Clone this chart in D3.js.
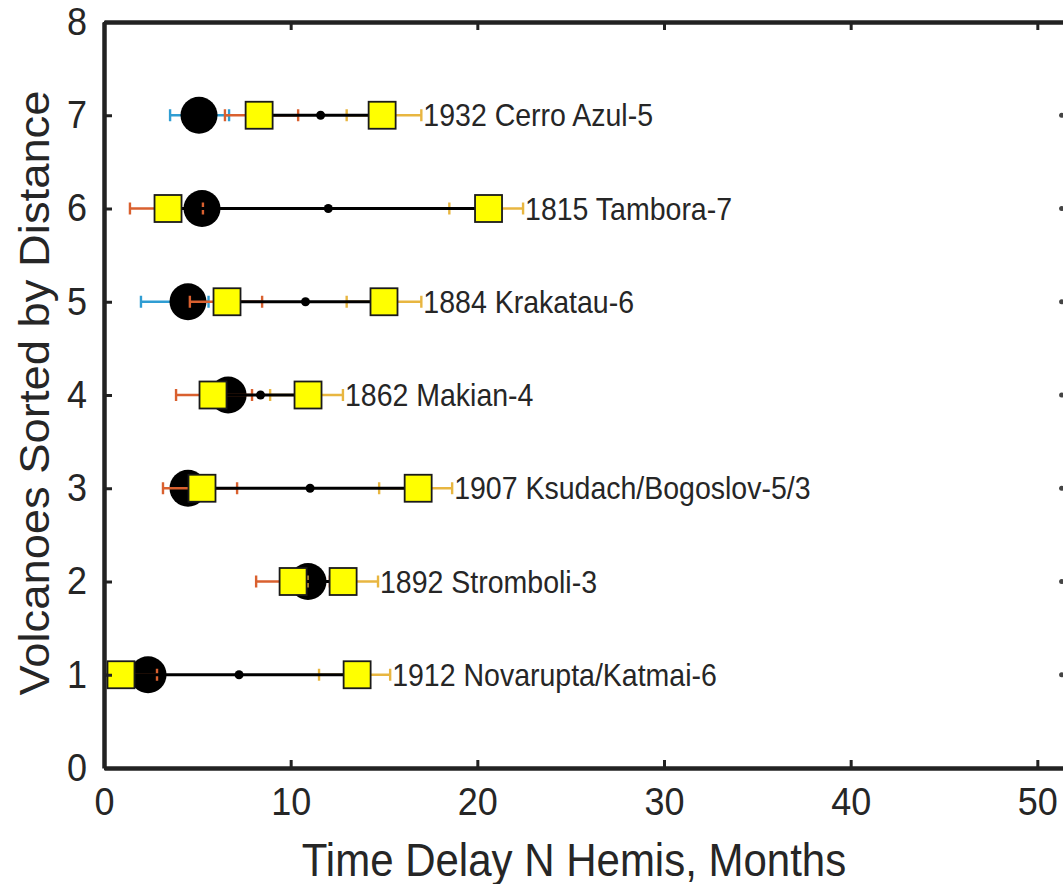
<!DOCTYPE html>
<html>
<head>
<meta charset="utf-8">
<script src="https://cdn.jsdelivr.net/npm/d3@7"></script>
<style>
  body { margin: 0; background: #fff; }
  text { font-family: "Liberation Sans", Arial, Helvetica, sans-serif; fill: #262626; }
</style>
</head>
<body>
<svg id="chart"></svg>
<script>

// volcano rows, bottom (1) to top (7)
var rows    = [1, 2, 3, 4, 5, 6, 7];
var names   = ["1912 Novarupta/Katmai-6", "1892 Stromboli-3", "1907 Ksudach/Bogoslov-5/3",
               "1862 Makian-4", "1884 Krakatau-6", "1815 Tambora-7", "1932 Cerro Azul-5"];

// big black circle + blue error bar
var circleVal = [2.36, 10.93, 4.50, 6.65, 4.50, 5.25, 5.09];
var blueLo    = [1.90, 10.50, 4.00, 6.20, 1.98, 4.70, 3.54];
var blueHi    = [3.20, 11.40, 5.00, 7.10, 5.60, 5.95, 6.70];

// first yellow square + red error bar
var sq1Val = [0.91, 10.13, 5.25, 5.84, 6.59, 3.43, 8.31];
var redLo  = [-1.0, 8.15, 3.16, 3.86, 4.60, 1.39, 6.48];
var redHi  = [2.84, 12.10, 7.13, 7.93, 8.47, 5.30, 10.40];

// second yellow square + gold error bar
var sq2Val = [13.56, 12.81, 16.83, 10.93, 15.00, 20.60, 14.90];
var goldLo = [11.52, 10.90, 14.74, 8.90, 13.00, 18.50, 13.00];
var goldHi = [15.33, 14.68, 18.65, 12.80, 17.00, 22.45, 17.00];

// small dots at the right edge
var edgeVal = [51.3, 51.3, 51.3, 51.3, 51.3, 51.3, 51.3];

var xTicks = [0, 10, 20, 30, 40, 50];
var yTicks = [0, 1, 2, 3, 4, 5, 6, 7, 8];

var data = rows.map(function(r, i) {
  return {
    y: r, name: names[i],
    c: circleVal[i], bLo: blueLo[i], bHi: blueHi[i],
    s1: sq1Val[i], rLo: redLo[i], rHi: redHi[i],
    s2: sq2Val[i], gLo: goldLo[i], gHi: goldHi[i],
    e: edgeVal[i]
  };
});

var margin = {top: 22, left: 104},
    W = 1063, H = 884,
    width = 1120,           // axis runs to 60, off the right edge
    height = 746,
    stretch = 1.08;         // text in the picture is a bit taller than wide

var svg = d3.select("#chart").attr("width", W).attr("height", H);

var x = d3.scaleLinear().domain([0, 60]).range([0, width]);
var y = d3.scaleLinear().domain([0, 8]).range([height, 0]);

var g = svg.append("g").attr("transform", "translate(" + margin.left + "," + margin.top + ")");

svg.append("defs").append("clipPath").attr("id", "clip")
  .append("rect").attr("x", 0).attr("y", 0).attr("width", width).attr("height", height);

var plot = g.append("g").attr("clip-path", "url(#clip)");

var blue = "#2f9dd3", red = "#d9602f", gold = "#e8b640";
var capH = 6;

function errorbar(sel, lo, hi, col) {
  sel.append("line")
    .attr("x1", function(d) { return x(d[lo]); })
    .attr("x2", function(d) { return x(d[hi]); })
    .attr("y1", function(d) { return y(d.y); })
    .attr("y2", function(d) { return y(d.y); })
    .attr("stroke", col).attr("stroke-width", 2.4);
  [lo, hi].forEach(function(k) {
    sel.append("line")
      .attr("x1", function(d) { return x(d[k]); })
      .attr("x2", function(d) { return x(d[k]); })
      .attr("y1", function(d) { return y(d.y) - capH; })
      .attr("y2", function(d) { return y(d.y) + capH; })
      .attr("stroke", col).attr("stroke-width", 2.4);
  });
}

var row = plot.selectAll(".row")
  .data(data)
  .enter()
  .append("g")
  .attr("class", "row");

// blue error bar sits behind the circle
errorbar(row.append("g"), "bLo", "bHi", blue);

row.append("circle")
  .attr("cx", function(d) { return x(d.c); })
  .attr("cy", function(d) { return y(d.y); })
  .attr("r", 18.5)
  .attr("fill", "#000");

errorbar(row.append("g"), "rLo", "rHi", red);
errorbar(row.append("g"), "gLo", "gHi", gold);

// black line between the two squares, dot at the midpoint
row.append("line")
  .attr("x1", function(d) { return x(d.s1); })
  .attr("x2", function(d) { return x(d.s2); })
  .attr("y1", function(d) { return y(d.y); })
  .attr("y2", function(d) { return y(d.y); })
  .attr("stroke", "#000").attr("stroke-width", 2.8);

row.append("circle")
  .attr("cx", function(d) { return x((d.s1 + d.s2) / 2); })
  .attr("cy", function(d) { return y(d.y); })
  .attr("r", 4.5)
  .attr("fill", "#000");

["s1", "s2"].forEach(function(k) {
  row.append("rect")
    .attr("x", function(d) { return x(d[k]) - 13.5; })
    .attr("y", function(d) { return y(d.y) - 13.5; })
    .attr("width", 27).attr("height", 27)
    .attr("fill", "#ffff00")
    .attr("stroke", "#1a1a1a").attr("stroke-width", 1.8);
});

row.append("circle")
  .attr("cx", function(d) { return x(d.e); })
  .attr("cy", function(d) { return y(d.y); })
  .attr("r", 2.5)
  .attr("fill", "#444");

// volcano labels
g.selectAll(".lab")
  .data(data)
  .enter()
  .append("text")
  .attr("class", "lab")
  .attr("transform", function(d) {
    return "translate(" + (x(d.gHi) + 2) + "," + y(d.y) + ") scale(1," + stretch + ")";
  })
  .attr("dy", "0.36em")
  .style("font-size", "28.5px")
  .text(function(d) { return d.name; });

// Add X axis (bottom + top, ticks inward)
g.append("g")
  .attr("class", "x-axis")
  .attr("transform", "translate(0," + height + ")")
  .call(d3.axisBottom(x).tickValues(xTicks).tickSizeInner(-8).tickSizeOuter(0).tickPadding(19));
g.append("g")
  .call(d3.axisTop(x).tickValues(xTicks).tickSizeInner(-8).tickSizeOuter(0).tickFormat(""));

// Add Y axis
g.append("g")
  .attr("class", "y-axis")
  .call(d3.axisLeft(y).tickValues(yTicks).tickSizeInner(-8).tickSizeOuter(0).tickPadding(17));

g.selectAll(".domain").attr("stroke", "#222").attr("stroke-width", 4.5);
g.selectAll(".tick line").attr("stroke", "#222").attr("stroke-width", 3);
g.selectAll(".tick text")
  .style("font-size", "36px")
  .style("font-family", "'Liberation Sans', Arial, sans-serif")
  .attr("fill", "#262626")
  .each(function() {
    var t = d3.select(this);
    var tx = +t.attr("x") || 0, ty = +t.attr("y") || 0;
    t.attr("x", 0).attr("y", 0)
     .attr("transform", "translate(" + tx + "," + ty + ") scale(1," + stretch + ")");
  });

// axis labels
svg.append("text")
  .attr("text-anchor", "middle")
  .attr("transform", "translate(574,876) scale(1," + stretch + ")")
  .style("font-size", "42px")
  .text("Time Delay N Hemis, Months");

svg.append("text")
  .attr("text-anchor", "middle")
  .attr("transform", "translate(49,393) rotate(-90) scale(" + stretch + ",1)")
  .style("font-size", "42px")
  .text("Volcanoes Sorted by Distance");

</script>
</body>
</html>
